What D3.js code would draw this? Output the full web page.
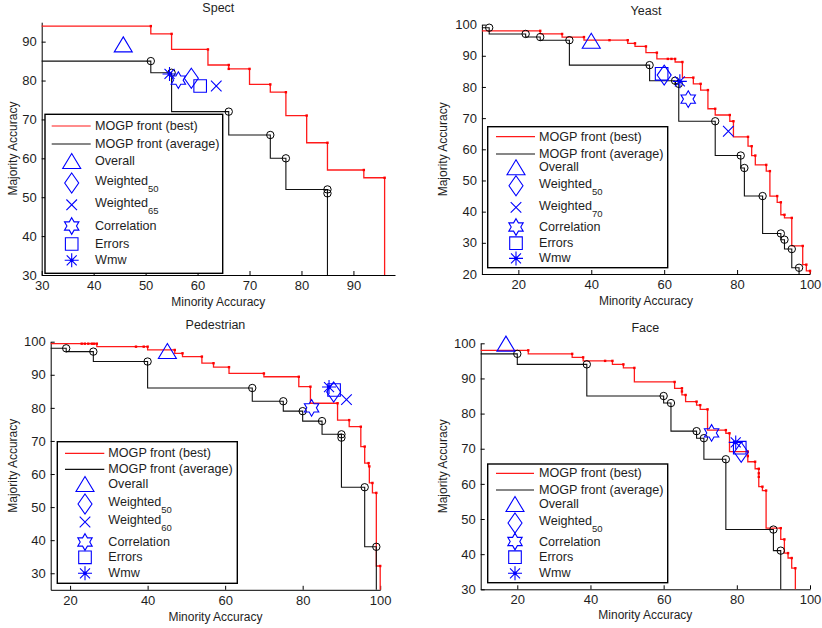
<!DOCTYPE html>
<html><head><meta charset="utf-8">
<script src="https://cdn.jsdelivr.net/npm/d3@7"></script>
<style>
body{margin:0;background:#fff}
text{font-family:"Liberation Sans",Arial,Helvetica,sans-serif;fill:#1e1e1e}
</style></head><body><svg id="c" width="822" height="628"></svg>
<script>
// ---------------- DATA ----------------
const titles = ["Spect", "Yeast", "Pedestrian", "Face"];
const xLabel = "Minority Accuracy", yLabel = "Majority Accuracy";

const spectXTicks = [30,40,50,60,70,80,90], spectYTicks = [30,40,50,60,70,80,90];
const yeastXTicks = [20,40,60,80,100], yeastYTicks = [20,30,40,50,60,70,80,90,100];
const pedXTicks = [20,40,60,80,100], pedYTicks = [30,40,50,60,70,80,90,100];
const faceXTicks = [20,40,60,80,100], faceYTicks = [30,40,50,60,70,80,90,100];

const spectDomain = {x:[30,98], y:[30,95]};
const yeastDomain = {x:[10,100], y:[20,100]};
const pedDomain = {x:[15,100], y:[25,100]};
const faceDomain = {x:[10,100], y:[30,100]};

// MOGP fronts: [minority, majority]
const spectBest = [[51,94],[55,92],[62,88],[66,84],[66,83],[70,83],[74,79],[77,77],[81,71],[85,64],[92,57],[96,55]];
const spectAvg  = [[51,85],[55,82],[66,72],[74,66],[77,60],[85,52],[85,51]];
const yeastBest = [[26,98],[32,97],[38,96],[45,95],[50,95],[52,94],[55,93],[58,91],[61,89],[62,89],[63,89],[65,88],[68,83],[70,81],[72,79],[74,73],[78,71],[79,69],[83,64],[84,61],[85,58],[88,55],[89,53],[91,45],[92,43],[93,39],[95,38],[98,29],[99,23],[100,21]];
const yeastAvg  = [[12,99],[22,97],[26,96],[34,95],[56,87],[63,82],[64,81],[74,69],[81,58],[82,54],[87,45],[92,33],[93,31],[95,28],[97,22]];
const pedBest   = [[23,99.4],[23.8,99.4],[24.7,99.4],[25.6,99.4],[26.2,99.4],[26.9,99.4],[37,98.5],[39,98.5],[40,98.5],[47,97.5],[49,96.5],[54,95.5],[57,93.5],[61,92.3],[70,90.4],[79,89.4],[82,86.4],[89,81.4],[92,76.3],[95,74.3],[96,68.3],[97,63.3],[97.2,62.3],[98,57.3],[99,54.3],[100,32.2]];
const pedAvg    = [[19,98],[26,97],[40,94],[67,86],[75,82],[80,79],[85,76],[90,72],[90,71],[96,56],[99,38]];
const faceBest  = [[23,98],[35,97],[38,96],[44,95],[46,95],[49,94],[52,93],[63,89],[65,87.2],[65,86.3],[66,85.3],[69,83.4],[70,82.4],[72,81.2],[77,75.3],[78,74.4],[83,69.2],[83,67.9],[85,66.3],[86,64.3],[86,63],[86,62],[87,59.2],[88,58.1],[92,47.4],[93,44.2],[94,40.3],[95,38.9],[96,36]];
const faceAvg   = [[20,97],[39,94],[60,85],[62,83],[69,75],[71,73],[77,67],[90,47],[92,41]];

// single-objective methods: [minority, majority]
const spectMethods = {overall:[45.7,89.3], w50:[58.8,80.6], wx:[63.6,78.6], corr:[56.3,80.1], errors:[60.5,78.6], wmw:[54.6,81.7]};
const yeastMethods = {overall:[40,94.8], w50:[60,83.8], wx:[77.6,65.8], corr:[66.6,76.1], errors:[59.3,84.2], wmw:[64.3,81.8]};
const pedMethods   = {overall:[45.1,97.2], w50:[88,84.8], wx:[91.3,82.5], corr:[82.3,80], errors:[88.1,85.4], wmw:[86.8,86.3]};
const faceMethods  = {overall:[16.9,99.9], w50:[81.2,69], corr:[73.1,74.5], errors:[80.8,70.3], wmw:[79.7,71.8]};
const weightedSub = {spect:"65", yeast:"70", ped:"60"};

// ---------------- LAYOUT ----------------
const layouts = [
 {x0:41.7,x1:395,y0:275,y1:22.2,titleY:7.5,xlabY:301.5,ylabX:12.5,
  lg:{x:45,y:114.3,w:177.7,h:159,l0:51.7,l1:90.7,mx:71.7,tx:95,rows:[11.7,29.7,46.7,68.7,90.5,111.7,129.7,146]}},
 {x0:481.9,x1:810,y0:274,y1:24.6,titleY:10.7,xlabY:301,ylabX:443.3,
  lg:{x:487.7,y:126.7,w:180,h:141,l0:496,l1:535,mx:516,tx:539,rows:[10,27.3,40.5,59,80.7,100.3,116.5,131.7]}},
 {x0:50.7,x1:380.2,y0:589.8,y1:341.7,titleY:325,xlabY:616.5,ylabX:13.3,
  lg:{x:57.3,y:441.7,w:180,h:141.6,l0:65,l1:104.3,mx:85,tx:108.3,rows:[11.6,27.6,42.3,62.3,80.3,100.3,115.6,131.6]}},
 {x0:480.7,x1:810,y0:589.3,y1:343.3,titleY:328.3,xlabY:615,ylabX:443.3,
  lg:{x:487.7,y:464,w:180,h:118.7,l0:496,l1:534,mx:515,tx:539,rows:[9.3,26,40,59,77.5,93.2,109.3]}}
];

const panels = [
 {title:titles[0], dom:spectDomain, xt:spectXTicks, yt:spectYTicks, best:spectBest, avg:spectAvg, m:spectMethods, sub:weightedSub.spect},
 {title:titles[1], dom:yeastDomain, xt:yeastXTicks, yt:yeastYTicks, best:yeastBest, avg:yeastAvg, m:yeastMethods, sub:weightedSub.yeast},
 {title:titles[2], dom:pedDomain, xt:pedXTicks, yt:pedYTicks, best:pedBest, avg:pedAvg, m:pedMethods, sub:weightedSub.ped},
 {title:titles[3], dom:faceDomain, xt:faceXTicks, yt:faceYTicks, best:faceBest, avg:faceAvg, m:faceMethods, sub:null}
];

// ---------------- MARKERS ----------------
const BLUE = "#0000ff";
function hexagram(R){
  const r = R/Math.sqrt(3), pts=[];
  for(let k=0;k<12;k++){const a=(-90+k*30)*Math.PI/180, rr=k%2?r:R; pts.push([rr*Math.cos(a), rr*Math.sin(a)]);}
  return "M"+pts.map(p=>p[0].toFixed(2)+","+p[1].toFixed(2)).join("L")+"Z";
}
const markerD = {
  overall:"M0,-7.5L9,7.5L-9,7.5Z",
  w50:"M0,-10L7,0L0,10L-7,0Z",
  wx:"M-5.3,-5.3L5.3,5.3M-5.3,5.3L5.3,-5.3",
  corr:hexagram(8.3),
  errors:"M-6.3,-6.3H6.3V6.3H-6.3Z",
  wmw:"M0,-7V7M-7,0H7M-5,-5L5,5M-5,5L5,-5"
};
function drawMarker(g, key, cx, cy){
  g.append("path").attr("d", markerD[key]).attr("transform",`translate(${cx},${cy})`)
   .attr("fill","none").attr("stroke",BLUE).attr("stroke-width",1.1).attr("stroke-linejoin","miter");
  if(key==="wmw") g.append("circle").attr("cx",cx).attr("cy",cy).attr("r",1.8).attr("fill",BLUE);
}

// ---------------- DRAW ----------------
const svg = d3.select("#c");
svg.append("rect").attr("width",822).attr("height",628).attr("fill","#fff");

panels.forEach((p,i)=>{
  const L = layouts[i];
  const x = d3.scaleLinear().domain(p.dom.x).range([L.x0, L.x1]);
  const y = d3.scaleLinear().domain(p.dom.y).range([L.y0, L.y1]);
  const g = svg.append("g");

  // axes
  const xa = g.append("g").attr("transform",`translate(0,${L.y0})`)
    .call(d3.axisBottom(x).tickValues(p.xt).tickSizeInner(-4).tickSizeOuter(0).tickPadding(5.5).tickFormat(d3.format("d")));
  const ya = g.append("g").attr("transform",`translate(${L.x0},0)`)
    .call(d3.axisLeft(y).tickValues(p.yt).tickSizeInner(-4).tickSizeOuter(0).tickPadding(5).tickFormat(d3.format("d")));
  [xa,ya].forEach(a=>{
    a.attr("font-family",null).attr("font-size",null);
    a.selectAll("text").style("font-size","13px").attr("fill","#1e1e1e");
    a.selectAll("path,line").attr("stroke","#000").attr("stroke-width",1);
  });

  // titles
  const cx = (L.x0+L.x1)/2, cy=(L.y0+L.y1)/2;
  g.append("text").attr("x",cx).attr("y",L.titleY).attr("text-anchor","middle").attr("dominant-baseline","central").style("font-size","12.5px").text(p.title);
  g.append("text").attr("x",cx).attr("y",L.xlabY).attr("text-anchor","middle").attr("dominant-baseline","central").style("font-size","12px").text(xLabel);
  g.append("text").attr("transform",`translate(${L.ylabX},${cy}) rotate(-90)`).attr("text-anchor","middle").attr("dominant-baseline","central").style("font-size","12px").text(yLabel);

  // step fronts
  const line = d3.line().x(d=>x(d[0])).y(d=>y(d[1])).curve(d3.curveStepBefore);
  const stepPts = arr => [[p.dom.x[0], arr[0][1]], ...arr, [arr[arr.length-1][0], p.dom.y[0]]];
  g.append("path").attr("d", line(stepPts(p.best))).attr("fill","none").attr("stroke","#ff1a1a").attr("stroke-width",1.3);
  g.append("path").attr("d", line(stepPts(p.avg))).attr("fill","none").attr("stroke","#111").attr("stroke-width",1.1);
  g.selectAll(null).data(p.avg).enter().append("circle")
    .attr("cx",d=>x(d[0])).attr("cy",d=>y(d[1])).attr("r",3.7)
    .attr("fill","none").attr("stroke","#000").attr("stroke-width",1);
  g.selectAll(null).data(p.best).enter().append("rect")
    .attr("x",d=>x(d[0])-1.2).attr("y",d=>y(d[1])-1.2).attr("width",2.4).attr("height",2.4).attr("fill","#ff0000");

  // method markers
  Object.keys(p.m).forEach(k=> drawMarker(g, k, x(p.m[k][0]), y(p.m[k][1])));

  // legend
  const lg = L.lg;
  const lgG = svg.append("g");
  lgG.append("rect").attr("x",lg.x).attr("y",lg.y).attr("width",lg.w).attr("height",lg.h)
     .attr("fill","#fff").attr("stroke","#000").attr("stroke-width",1.4);
  const items = [
    {line:"#ff1a1a", label:"MOGP front (best)"},
    {line:"#111", label:"MOGP front (average)"},
    {m:"overall", label:"Overall"},
    {m:"w50", label:"Weighted", sub:"50"}
  ];
  if(p.sub) items.push({m:"wx", label:"Weighted", sub:p.sub});
  items.push({m:"corr", label:"Correlation"},{m:"errors", label:"Errors"},{m:"wmw", label:"Wmw"});
  items.forEach((it,j)=>{
    const ry = lg.y + lg.rows[j];
    if(it.line){
      lgG.append("line").attr("x1",lg.l0).attr("x2",lg.l1).attr("y1",ry).attr("y2",ry).attr("stroke",it.line).attr("stroke-width",1.2);
    } else drawMarker(lgG, it.m, lg.mx, ry);
    const ty = it.sub ? ry-1.8 : ry;
    const t = lgG.append("text").attr("x",lg.tx).attr("y",ty).attr("dominant-baseline","central").style("font-size","12.6px").text(it.label);
    if(it.sub) t.append("tspan").attr("dy","7").style("font-size","9.5px").text(it.sub);
  });
});
</script></body></html>
